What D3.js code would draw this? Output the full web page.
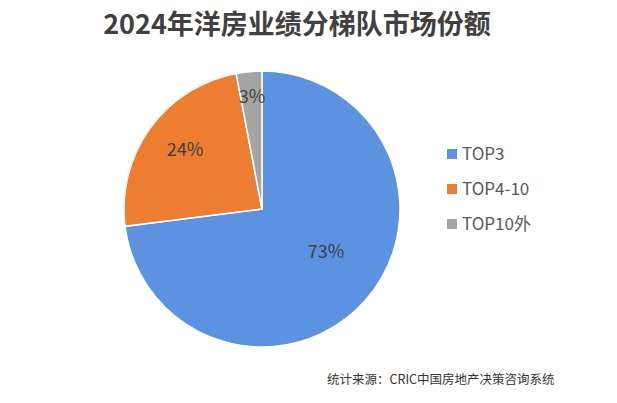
<!DOCTYPE html>
<html><head><meta charset="utf-8">
<script src="https://cdn.jsdelivr.net/npm/d3@7"></script>
<style>body{margin:0;background:#fff;}svg{display:block;}</style>
</head><body>
<svg id="c" width="617" height="403"></svg>
<script>
const categories = ["TOP3", "TOP4-10", "TOP10外"];
const values = [73, 24, 3];
const labels = ["73%", "24%", "3%"];
const colors = ["#5B93E0", "#ED7D31", "#A5A5A5"];

const svg = d3.select("#c");
const cx = 262, cy = 209, r = 138;

svg.append("text").attr("x", 297).attr("y", 34).attr("text-anchor", "middle")
  .attr("font-family", "Noto Sans CJK SC").attr("font-weight", "bold").attr("font-size", 27)
  .attr("fill", "#404040").text("2024年洋房业绩分梯队市场份额");

const pie = d3.pie().sort(null).value(d => d)
  .startAngle(0).endAngle(2 * Math.PI);
const arcs = pie(values);
const arc = d3.arc().innerRadius(0).outerRadius(r);
const g = svg.append("g").attr("transform", `translate(${cx},${cy})`);
g.selectAll("path").data(arcs).join("path")
  .attr("d", arc).attr("fill", (d, i) => colors[i])
  .attr("stroke", "#fff").attr("stroke-width", 1.5);

// labels
const labelPos = [[326, 252], [185, 150], [252, 97]];
g.selectAll("text.lbl").data(arcs).join("text").attr("class", "lbl")
  .attr("x", (d, i) => labelPos[i][0] - cx).attr("y", (d, i) => labelPos[i][1] - cy)
  .attr("dy", "0.35em").attr("text-anchor", "middle")
  .attr("font-family", "Noto Sans CJK SC").attr("font-size", 18).attr("fill", "#404040")
  .text((d, i) => labels[i]);

// legend
const lg = svg.append("g").attr("transform", "translate(447,154)");
const item = lg.selectAll("g").data(categories).join("g")
  .attr("transform", (d, i) => `translate(0,${i * 35})`);
item.append("rect").attr("x", 0).attr("y", -5).attr("width", 10).attr("height", 10)
  .attr("fill", (d, i) => colors[i]);
item.append("text").attr("x", 15).attr("dy", "0.35em")
  .attr("font-family", "Noto Sans CJK SC").attr("font-size", 17).attr("fill", "#595959")
  .text(d => d);

svg.append("text").attr("x", 327).attr("y", 384)
  .attr("font-family", "Noto Sans CJK SC").attr("font-size", 12.5).attr("fill", "#333")
  .text("统计来源：CRIC中国房地产决策咨询系统");
</script>
</body></html>
